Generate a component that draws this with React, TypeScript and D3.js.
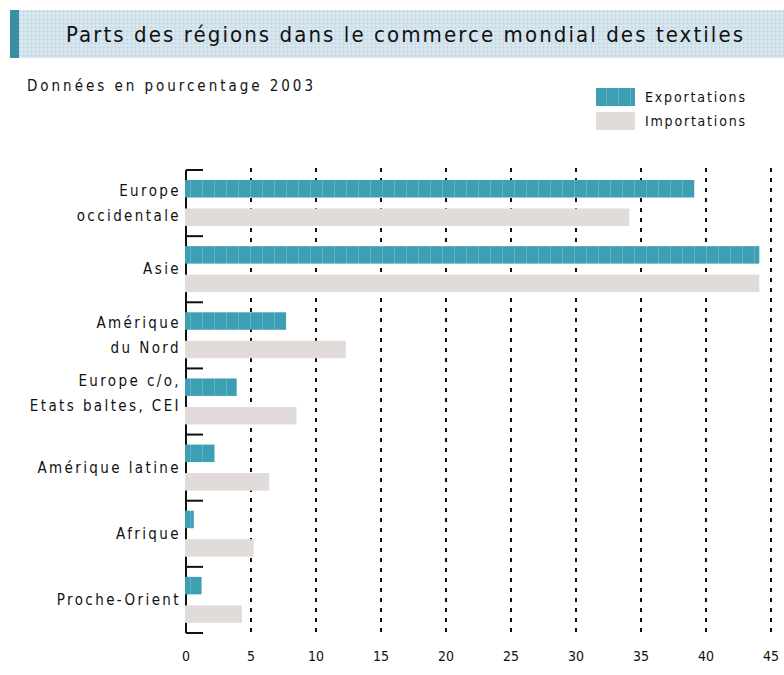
import React, { useEffect, useRef } from "react";
import * as d3 from "d3";

// régions (libellés sur deux lignes quand nécessaire)
const regions = [
  ["Europe", "occidentale"],
  ["Asie"],
  ["Amérique", "du Nord"],
  ["Europe c/o,", "Etats baltes, CEI"],
  ["Amérique latine"],
  ["Afrique"],
  ["Proche-Orient"],
];
const exportations = [39.1, 44.1, 7.7, 3.9, 2.2, 0.6, 1.2];
const importations = [34.1, 44.1, 12.3, 8.5, 6.4, 5.2, 4.3];
const series = ["Exportations", "Importations"];
const xTicks = [0, 5, 10, 15, 20, 25, 30, 35, 40, 45];

const title = "Parts des régions dans le commerce mondial des textiles";
const subtitle = "Données en pourcentage 2003";

const App = () => {
  const ref = useRef<SVGSVGElement>(null);

  useEffect(() => {
    const width = 784;
    const height = 675;
    const font = "'DejaVu Sans Condensed', 'Liberation Sans Narrow', sans-serif";
    const teal = "#3c9fb4";
    const grey = "#e1dcda";

    const svg = d3.select(ref.current);
    svg.selectAll("*").remove();
    svg.attr("viewBox", [0, 0, width, height]).style("font-family", font);

    const defs = svg.append("defs");

    // texture des barres d'exportation
    const pat = defs
      .append("pattern")
      .attr("id", "stripes")
      .attr("patternUnits", "userSpaceOnUse")
      .attr("width", 12)
      .attr("height", 4);
    pat.append("rect").attr("width", 12).attr("height", 4).attr("fill", teal);
    pat
      .append("rect")
      .attr("x", 10)
      .attr("width", 1)
      .attr("height", 4)
      .attr("fill", "#5fb3c5");

    // texture du bandeau
    const band = defs
      .append("pattern")
      .attr("id", "banner")
      .attr("patternUnits", "userSpaceOnUse")
      .attr("width", 4)
      .attr("height", 4);
    band.append("rect").attr("width", 4).attr("height", 4).attr("fill", "#d3e3ec");
    band.append("rect").attr("x", 1).attr("y", 1).attr("width", 1).attr("height", 1).attr("fill", "#eef4f7");
    band.append("rect").attr("x", 3).attr("y", 3).attr("width", 1).attr("height", 1).attr("fill", "#b9d1de");

    // bandeau du titre
    svg
      .append("rect")
      .attr("x", 10)
      .attr("y", 10)
      .attr("width", width - 10)
      .attr("height", 48)
      .attr("fill", "url(#banner)");
    svg
      .append("rect")
      .attr("x", 10)
      .attr("y", 10)
      .attr("width", 9)
      .attr("height", 48)
      .attr("fill", "#3a8fa2");
    svg
      .append("text")
      .attr("x", 66)
      .attr("y", 42)
      .attr("font-size", 22)
      .attr("textLength", 677)
      .attr("lengthAdjust", "spacing")
      .attr("fill", "#111")
      .text(title);

    svg
      .append("text")
      .attr("x", 27)
      .attr("y", 91)
      .attr("font-size", 15)
      .attr("textLength", 286)
      .attr("lengthAdjust", "spacing")
      .attr("fill", "#111")
      .text(subtitle);

    // légende
    const legend = svg.append("g").attr("transform", "translate(596,88)");
    series.forEach((s, i) => {
      legend
        .append("rect")
        .attr("x", 0)
        .attr("y", i * 24)
        .attr("width", 39)
        .attr("height", 18)
        .attr("fill", i === 0 ? "url(#stripes)" : grey);
      legend
        .append("text")
        .attr("x", 49)
        .attr("y", i * 24 + 14)
        .attr("font-size", 14)
        .attr("textLength", 100)
        .attr("lengthAdjust", "spacing")
        .attr("fill", "#111")
        .text(s);
    });

    // échelles
    const x = d3.scaleLinear().domain([0, 45]).range([186, 771]);
    const y = d3
      .scaleBand<number>()
      .domain(d3.range(regions.length))
      .range([170, 633]);
    const ySub = d3
      .scaleBand<string>()
      .domain(series)
      .range([10, 56])
      .paddingInner(0.386);

    // quadrillage pointillé
    svg
      .append("g")
      .selectAll("line")
      .data(xTicks.slice(1))
      .join("line")
      .attr("x1", (d) => x(d))
      .attr("x2", (d) => x(d))
      .attr("y1", 168)
      .attr("y2", 634)
      .attr("stroke", "#111")
      .attr("stroke-width", 2)
      .attr("stroke-dasharray", "4 6");

    // axe vertical et repères
    svg
      .append("line")
      .attr("x1", x(0))
      .attr("x2", x(0))
      .attr("y1", y(0)!)
      .attr("y2", 633)
      .attr("stroke", "#111")
      .attr("stroke-width", 2);
    svg
      .append("g")
      .selectAll("line")
      .data(d3.range(regions.length + 1))
      .join("line")
      .attr("x1", x(0))
      .attr("x2", x(0) + 17)
      .attr("y1", (i) => (i < regions.length ? y(i)! : 633))
      .attr("y2", (i) => (i < regions.length ? y(i)! : 633))
      .attr("stroke", "#111")
      .attr("stroke-width", 2);

    // barres
    const groups = svg
      .append("g")
      .selectAll("g")
      .data(regions)
      .join("g")
      .attr("transform", (_, i) => `translate(0,${y(i)})`);
    groups
      .append("rect")
      .attr("x", x(0) - 1)
      .attr("y", ySub("Exportations")!)
      .attr("height", ySub.bandwidth())
      .attr("width", (_, i) => x(exportations[i]) - x(0) + 1)
      .attr("fill", "url(#stripes)");
    groups
      .append("rect")
      .attr("x", x(0) - 1)
      .attr("y", ySub("Importations")!)
      .attr("height", ySub.bandwidth())
      .attr("width", (_, i) => x(importations[i]) - x(0) + 1)
      .attr("fill", grey);

    // libellés des régions
    groups.each(function (lines, i) {
      const g = d3.select(this);
      const mid = y.bandwidth() / 2 + (i === 3 ? -8 : 0);
      lines.forEach((l, k) => {
        g.append("text")
          .attr("x", 181)
          .attr("y", mid + (k - (lines.length - 1) / 2) * 25 + 5)
          .attr("text-anchor", "end")
          .attr("font-size", 15)
          .attr("letter-spacing", 2.4)
          .attr("fill", "#111")
          .text(l);
      });
    });

    // graduations
    svg
      .append("g")
      .selectAll("text")
      .data(xTicks)
      .join("text")
      .attr("x", (d) => x(d))
      .attr("y", 661)
      .attr("text-anchor", "middle")
      .attr("font-size", 14)
      .attr("fill", "#111")
      .text((d) => d);
  }, []);

  return (
    <svg
      ref={ref}
      width={784}
      height={675}
      style={{ position: "absolute", left: 0, top: 0, display: "block", background: "#fff" }}
    />
  );
};

export default App;
